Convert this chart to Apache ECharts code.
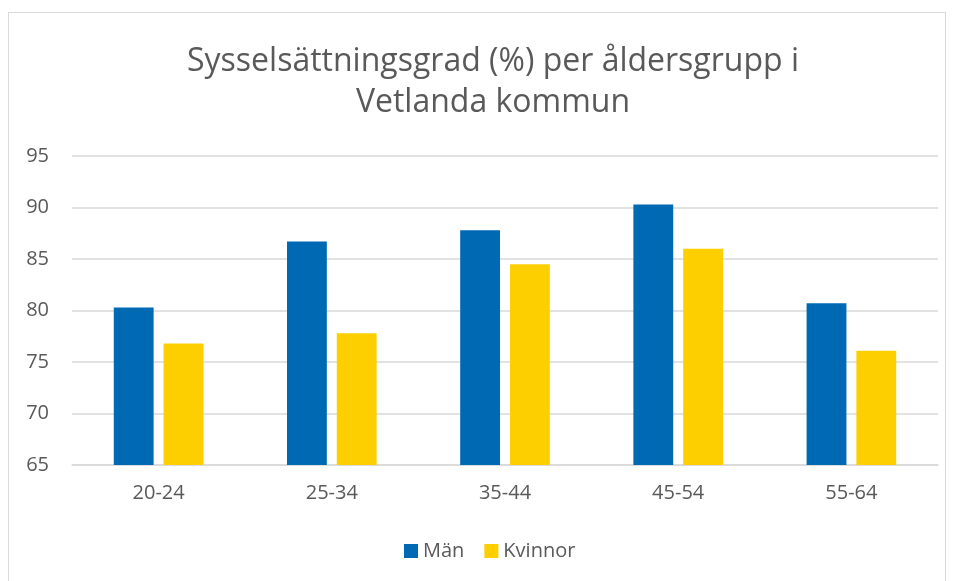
<!DOCTYPE html>
<html>
<head>
<meta charset="utf-8">
<script src="https://cdn.jsdelivr.net/npm/echarts@6/dist/echarts.min.js"></script>
<style>
  html, body { margin: 0; padding: 0; background: #fff; }
  #frame { position: absolute; left: 8px; top: 12px; width: 938px; height: 580px; border: 1px solid #d9d9d9; box-sizing: border-box; }
  #main { position: absolute; left: 0; top: 0; width: 955px; height: 581px; }
</style>
</head>
<body>
<div id="frame"></div>
<div id="main"></div>
<script>
const categories = ["20-24", "25-34", "35-44", "45-54", "55-64"];
const man = [80.3, 86.7, 87.8, 90.3, 80.7];
const kvinnor = [76.8, 77.8, 84.5, 86.0, 76.1];

const textColor = "#595959";
const font = "'Open Sans', 'Liberation Sans', sans-serif";

let myChart = echarts.init(document.querySelector("#main"));
let option = {
  title: {
    text: "Sysselsättningsgrad (%) per åldersgrupp i\nVetlanda kommun",
    left: 488,
    top: 36,
    textAlign: "center",
    textStyle: {
      color: textColor,
      fontFamily: font,
      fontWeight: "normal",
      fontSize: 32,
      lineHeight: 41,
    },
  },
  legend: {
    bottom: 15,
    left: 399,
    itemWidth: 14,
    itemHeight: 14,
    itemGap: 20,
    icon: "rect",
    textStyle: { color: textColor, fontFamily: font, fontSize: 20 },
    data: ["Män", "Kvinnor"],
  },
  grid: { left: 72, right: 17, top: 156, bottom: 116, containLabel: false },
  xAxis: {
    type: "category",
    data: categories,
    axisLine: { lineStyle: { color: "#d9d9d9", width: 1.5 } },
    axisTick: { show: false },
    axisLabel: { color: textColor, fontFamily: font, fontSize: 20, margin: 18 },
  },
  yAxis: {
    type: "value",
    min: 65,
    max: 95,
    interval: 5,
    axisLine: { show: false },
    axisTick: { show: false },
    splitLine: { lineStyle: { color: "#d9d9d9", width: 1.5 } },
    axisLabel: { color: textColor, fontFamily: font, fontSize: 20, margin: 23 },
  },
  series: [
    {
      name: "Män",
      type: "bar",
      data: man,
      barWidth: "23%",
      barGap: "25%",
      itemStyle: { color: "#0069b4" },
    },
    {
      name: "Kvinnor",
      type: "bar",
      data: kvinnor,
      barWidth: "23%",
      itemStyle: { color: "#fecf00" },
    },
  ],
};
myChart.setOption(option);
window.addEventListener("resize", () => {
  myChart.resize();
});
</script>
</body>
</html>
